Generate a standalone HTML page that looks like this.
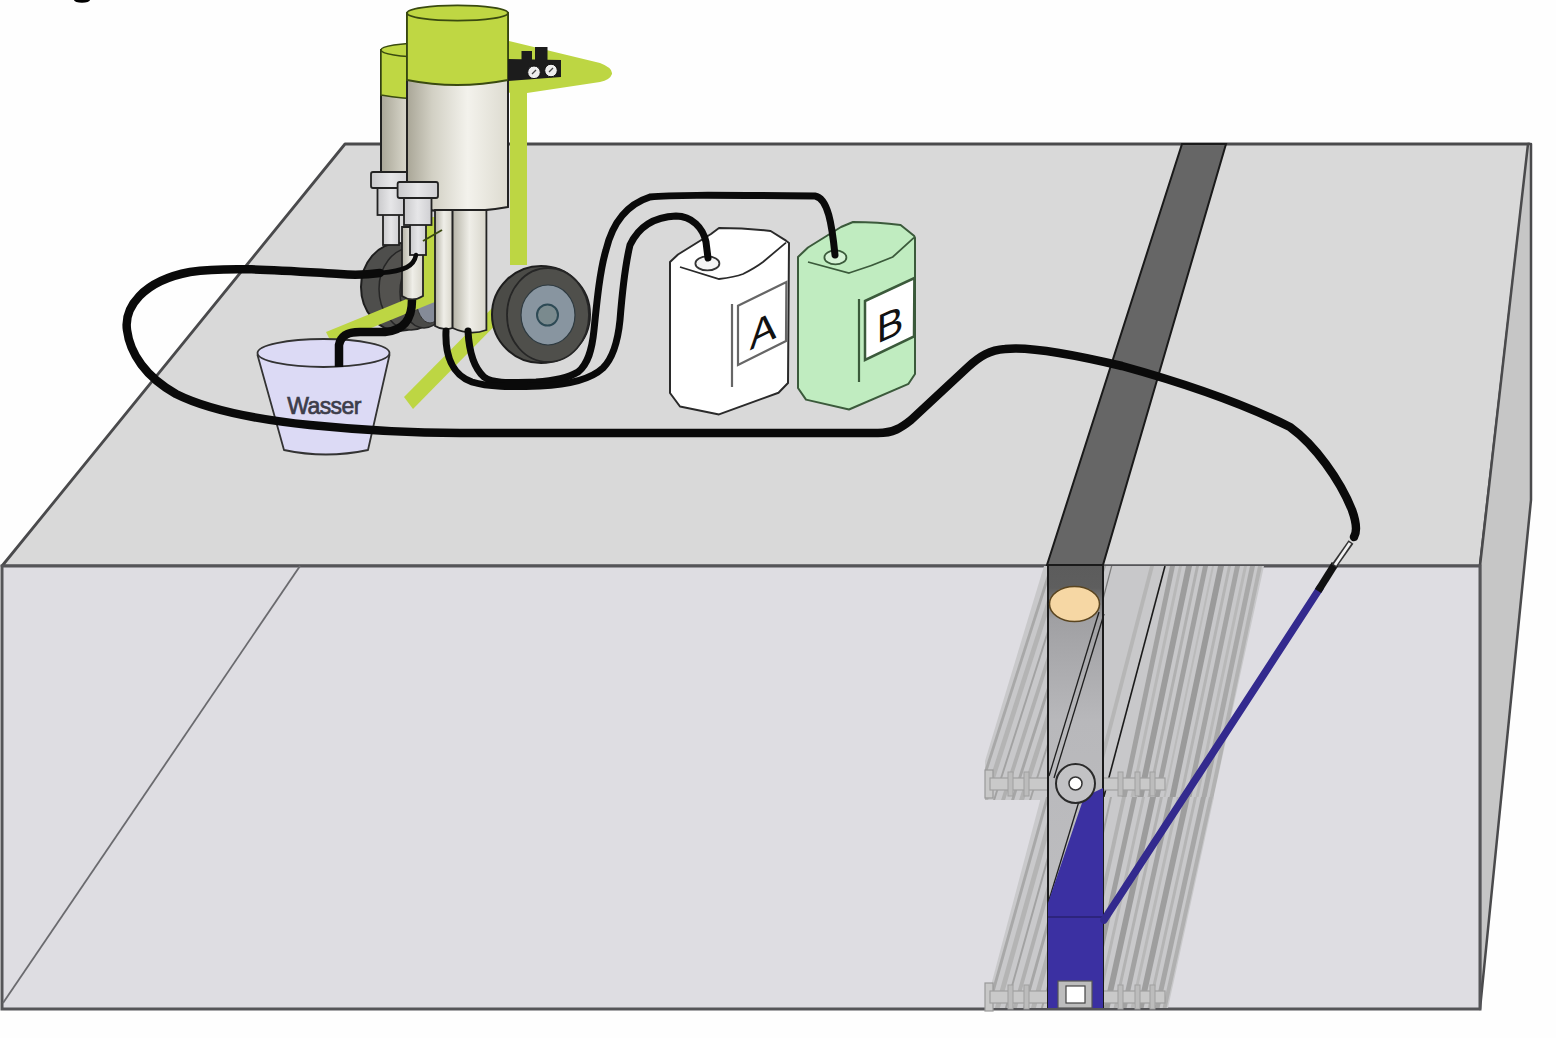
<!DOCTYPE html>
<html><head><meta charset="utf-8">
<style>
html,body{margin:0;padding:0;background:#fefefe;width:1556px;height:1038px;overflow:hidden}
svg{display:block}
text{font-family:"Liberation Sans",sans-serif}
</style></head>
<body>
<svg width="1556" height="1038" viewBox="0 0 1556 1038">
<!-- partial glyph top -->
<ellipse cx="82" cy="0" rx="8" ry="2.7" fill="#000"/>

<!-- BLOCK -->
<!-- top face -->
<polygon points="345,144 1529,144 1480,566 2,566" fill="#d9d9d9" stroke="#4a4a4c" stroke-width="2.8" stroke-linejoin="round"/>
<!-- right face -->
<polygon points="1528,144 1531,144 1531,500 1480,1009 1480,566" fill="#c6c6c6" stroke="#4a4a4c" stroke-width="2.5" stroke-linejoin="round"/>
<!-- front face -->
<rect x="2" y="566" width="1478" height="443" fill="#dedde2" stroke="#555558" stroke-width="3"/>
<line x1="300" y1="566" x2="3" y2="1003" stroke="#6a6a6e" stroke-width="1.8"/>

<!-- CHANNEL (slanted grey stripes) -->
<g id="channel"><defs><clipPath id="cu"><polygon points="1044,566 1264,566 1213,800 985,800 985,761"/></clipPath>
<clipPath id="cl"><polygon points="1041,797 1214,797 1168,1008 985,1008"/></clipPath>
<linearGradient id="bh" x1="0" y1="0" x2="0" y2="1"><stop offset="0" stop-color="#5c5c5c"/><stop offset="0.05" stop-color="#5e5e5e"/><stop offset="0.12" stop-color="#a0a0a3"/><stop offset="0.35" stop-color="#b8b8bb"/><stop offset="1" stop-color="#c0c0c2"/></linearGradient></defs>
<g clip-path="url(#cu)">
<rect x="960" y="560" width="320" height="250" fill="#c8c8ca"/>
<polygon points="1050.0,566 1053.0,566 978.1,800 975.1,800" fill="#a8a8a8"/>
<polygon points="1058.0,566 1063.0,566 988.1,800 983.1,800" fill="#b4b4b4"/>
<polygon points="1068.0,566 1070.0,566 995.1,800 993.1,800" fill="#a2a2a2"/>
<polygon points="1076.0,566 1080.0,566 1005.1,800 1001.1,800" fill="#b0b0b0"/>
<polygon points="1086.0,566 1089.0,566 1014.1,800 1011.1,800" fill="#a6a6a6"/>
<polygon points="1094.0,566 1099.0,566 1024.1,800 1019.1,800" fill="#b2b2b2"/>
<polygon points="1104.0,566 1106.0,566 1031.1,800 1029.1,800" fill="#a4a4a4"/>
<polygon points="1111.0,566 1112.3,566 1051.5,800 1050.2,800" fill="#7a7a7a"/>
<polygon points="1150.0,566 1154.0,566 1093.2,800 1089.2,800" fill="#b6b6b6"/>
<polygon points="1170.0,566 1175.0,566 1125.9,800 1120.9,800" fill="#a2a2a2"/>
<polygon points="1179.0,566 1182.0,566 1132.9,800 1129.9,800" fill="#b8b8b8"/>
<polygon points="1186.0,566 1192.0,566 1142.9,800 1136.9,800" fill="#9c9c9c"/>
<polygon points="1196.0,566 1199.0,566 1149.9,800 1146.9,800" fill="#b0b0b0"/>
<polygon points="1203.0,566 1208.0,566 1158.9,800 1153.9,800" fill="#a0a0a0"/>
<polygon points="1212.0,566 1214.0,566 1164.9,800 1162.9,800" fill="#bababa"/>
<polygon points="1218.0,566 1224.0,566 1174.9,800 1168.9,800" fill="#9a9a9a"/>
<polygon points="1228.0,566 1231.0,566 1181.9,800 1178.9,800" fill="#b4b4b4"/>
<polygon points="1235.0,566 1240.0,566 1190.9,800 1185.9,800" fill="#a4a4a4"/>
<polygon points="1244.0,566 1247.0,566 1197.9,800 1194.9,800" fill="#b8b8b8"/>
<polygon points="1250.0,566 1255.0,566 1205.9,800 1200.9,800" fill="#a8a8a8"/>
<polygon points="1258.0,566 1262.0,566 1212.9,800 1208.9,800" fill="#b2b2b2"/>
<line x1="1165" y1="566" x2="1103" y2="800" stroke="#1a1a1a" stroke-width="1.6"/>
</g>
<g clip-path="url(#cl)">
<rect x="960" y="790" width="300" height="230" fill="#c9c9cb"/>
<polygon points="1046.0,797 1049.0,797 989.9,1008 986.9,1008" fill="#a8a8a8"/>
<polygon points="1054.0,797 1059.0,797 999.9,1008 994.9,1008" fill="#b4b4b4"/>
<polygon points="1064.0,797 1066.0,797 1006.9,1008 1004.9,1008" fill="#a2a2a2"/>
<polygon points="1072.0,797 1076.0,797 1016.9,1008 1012.9,1008" fill="#b0b0b0"/>
<polygon points="1082.0,797 1085.0,797 1025.9,1008 1022.9,1008" fill="#a6a6a6"/>
<polygon points="1090.0,797 1095.0,797 1035.9,1008 1030.9,1008" fill="#b2b2b2"/>
<polygon points="1100.0,797 1102.0,797 1042.9,1008 1040.9,1008" fill="#a4a4a4"/>
<polygon points="1110.0,797 1112.0,797 1065.6,1008 1063.6,1008" fill="#a8a8a8"/>
<polygon points="1122.0,797 1126.0,797 1079.6,1008 1075.6,1008" fill="#b2b2b2"/>
<polygon points="1132.0,797 1137.0,797 1090.6,1008 1085.6,1008" fill="#a0a0a0"/>
<polygon points="1142.0,797 1145.0,797 1098.6,1008 1095.6,1008" fill="#b6b6b6"/>
<polygon points="1150.0,797 1156.0,797 1109.6,1008 1103.6,1008" fill="#9c9c9c"/>
<polygon points="1160.0,797 1163.0,797 1116.6,1008 1113.6,1008" fill="#b2b2b2"/>
<polygon points="1168.0,797 1173.0,797 1126.6,1008 1121.6,1008" fill="#a2a2a2"/>
<polygon points="1177.0,797 1180.0,797 1133.6,1008 1130.6,1008" fill="#b8b8b8"/>
<polygon points="1184.0,797 1190.0,797 1143.6,1008 1137.6,1008" fill="#9e9e9e"/>
<polygon points="1194.0,797 1197.0,797 1150.6,1008 1147.6,1008" fill="#b4b4b4"/>
<polygon points="1201.0,797 1206.0,797 1159.6,1008 1154.6,1008" fill="#a6a6a6"/>
<polygon points="1209.0,797 1213.0,797 1166.6,1008 1162.6,1008" fill="#b0b0b0"/>
</g>
<rect x="985" y="770" width="8" height="28" fill="#c8c8c8" stroke="#999" stroke-width="1.2"/>
<rect x="990" y="778" width="175" height="12" fill="#c9c9c9" stroke="#a0a0a0" stroke-width="1.2"/>
<rect x="1008" y="772" width="5" height="24" fill="#bcbcbc" stroke="#a0a0a0" stroke-width="1"/>
<rect x="1024" y="772" width="5" height="24" fill="#bcbcbc" stroke="#a0a0a0" stroke-width="1"/>
<rect x="1118" y="772" width="5" height="24" fill="#bcbcbc" stroke="#a0a0a0" stroke-width="1"/>
<rect x="1135" y="772" width="5" height="24" fill="#bcbcbc" stroke="#a0a0a0" stroke-width="1"/>
<rect x="1150" y="772" width="5" height="24" fill="#bcbcbc" stroke="#a0a0a0" stroke-width="1"/>
<rect x="985" y="983" width="8" height="28" fill="#c8c8c8" stroke="#999" stroke-width="1.2"/>
<rect x="990" y="991" width="175" height="12" fill="#c9c9c9" stroke="#a0a0a0" stroke-width="1.2"/>
<rect x="1008" y="985" width="5" height="24" fill="#bcbcbc" stroke="#a0a0a0" stroke-width="1"/>
<rect x="1024" y="985" width="5" height="24" fill="#bcbcbc" stroke="#a0a0a0" stroke-width="1"/>
<rect x="1118" y="985" width="5" height="24" fill="#bcbcbc" stroke="#a0a0a0" stroke-width="1"/>
<rect x="1135" y="985" width="5" height="24" fill="#bcbcbc" stroke="#a0a0a0" stroke-width="1"/>
<rect x="1150" y="985" width="5" height="24" fill="#bcbcbc" stroke="#a0a0a0" stroke-width="1"/>
<rect x="1048" y="566" width="55" height="442" fill="url(#bh)"/>
<line x1="1099" y1="612" x2="1049" y2="776" stroke="#1e1e1e" stroke-width="1.3"/>
<line x1="1104" y1="614" x2="1054" y2="778" stroke="#1e1e1e" stroke-width="1.3"/>
<line x1="1048" y1="566" x2="1048" y2="1008" stroke="#1a1a1a" stroke-width="2"/>
<line x1="1103" y1="566" x2="1103" y2="1008" stroke="#1a1a1a" stroke-width="2"/>
<ellipse cx="1074.5" cy="604" rx="25" ry="17.5" fill="#f6d7a4" stroke="#5a4520" stroke-width="1.5"/>
<line x1="1080" y1="798" x2="1049" y2="900" stroke="#1e1e1e" stroke-width="1.3"/>
<polygon points="1084,797 1103,788 1103,1008 1048,1008 1048,903" fill="#3b30a2"/>
<line x1="1048" y1="917" x2="1103" y2="917" stroke="#2a2070" stroke-width="1.5"/>
<circle cx="1075.5" cy="783.5" r="19.5" fill="#c2c2c4" stroke="#2a2a2a" stroke-width="2"/>
<circle cx="1075.5" cy="783.5" r="6.5" fill="#fff" stroke="#333" stroke-width="1.5"/>
<rect x="1058" y="981" width="34" height="27" fill="#bdbdbd" stroke="#555" stroke-width="1.2"/>
<rect x="1066" y="986" width="19" height="17" fill="#fff" stroke="#444" stroke-width="1.2"/>
<line x1="1104" y1="920" x2="1320" y2="588" stroke="#332a8e" stroke-width="7.5" stroke-linecap="round"/>
<line x1="1318" y1="591" x2="1335" y2="564" stroke="#111" stroke-width="7.5"/>
<line x1="1334" y1="566" x2="1351" y2="542" stroke="#333" stroke-width="6"/>
<line x1="1335" y1="565" x2="1350" y2="543" stroke="#f2f2f2" stroke-width="2.8"/>
</g>

<!-- dark strip on top -->
<polygon points="1182,144 1226,144 1103,565 1047,565" fill="#666" stroke="#1a1a1a" stroke-width="2"/>

<!-- PUMP -->
<g id="pump">
<defs>
<linearGradient id="cyl" x1="0" x2="1" y1="0" y2="0">
<stop offset="0" stop-color="#a9a697"/><stop offset="0.25" stop-color="#d2d0c4"/><stop offset="0.6" stop-color="#f3f2ec"/><stop offset="1" stop-color="#dddbd0"/>
</linearGradient>
<linearGradient id="cyl2" x1="0" x2="1" y1="0" y2="0">
<stop offset="0" stop-color="#b5b3a6"/><stop offset="0.5" stop-color="#efeee8"/><stop offset="1" stop-color="#d8d6cb"/>
</linearGradient>
<linearGradient id="fit" x1="0" x2="1" y1="0" y2="0">
<stop offset="0" stop-color="#c9c9cb"/><stop offset="0.5" stop-color="#e6e6e8"/><stop offset="1" stop-color="#cfcfd2"/>
</linearGradient>
</defs>
<!-- green frame: arm + post -->
<path d="M505,40 L600,63 Q613,68 612,74 Q610,80 600,82 L527,93 L527,265 L510,265 L510,93 L505,90 Z" fill="#bdd643"/>
<!-- green base bars -->
<polygon points="404,397 508,292 518,302 413,409" fill="#bdd643"/>
<!-- back cylinder -->
<path d="M381,50 L381,172 L470,172 L470,50 Z" fill="url(#cyl)" stroke="#222" stroke-width="2"/>
<path d="M381,50 L381,95 Q425,103 470,95 L470,50 Z" fill="#bfd743" stroke="#3a4a10" stroke-width="1.5"/>
<ellipse cx="425" cy="50" rx="44" ry="7" fill="#bfd743" stroke="#3a4a10" stroke-width="1.5"/>
<!-- back wheel -->
<ellipse cx="399" cy="287" rx="38" ry="44" fill="#4e4e4c" stroke="#1e1e1e" stroke-width="2"/>
<ellipse cx="411" cy="289" rx="32" ry="41" fill="#53524f" stroke="#262626" stroke-width="1.5"/>
<ellipse cx="424" cy="292" rx="24" ry="36" fill="#4a4a48" stroke="#262626" stroke-width="1.5"/>
<ellipse cx="430" cy="297" rx="14" ry="26" fill="#858b98" stroke="#333" stroke-width="1"/>
<polygon points="326,332 436,287 442,299 332,344" fill="#bdd643"/>
<!-- green post between -->
<rect x="423" y="217" width="13" height="78" fill="#bdd643"/>
<!-- back fitting -->
<rect x="383" y="213" width="16" height="32" fill="url(#fit)" stroke="#222" stroke-width="1.8"/>
<rect x="377.5" y="187" width="26.5" height="28" fill="url(#fit)" stroke="#222" stroke-width="1.8"/>
<rect x="371" y="172" width="40" height="16" rx="2" fill="url(#fit)" stroke="#222" stroke-width="1.8"/>
<!-- front cylinder -->
<path d="M407,13 L407,207 Q457,216 508,207 L508,13 Z" fill="url(#cyl)" stroke="#222" stroke-width="2"/>
<path d="M407,13 L407,80 Q457,90 508,80 L508,13 Z" fill="#bfd743" stroke="#3a4a10" stroke-width="1.8"/>
<ellipse cx="457.5" cy="13" rx="50.5" ry="7.7" fill="#bfd743" stroke="#3a4a10" stroke-width="1.8"/>
<!-- pistons -->
<path d="M435,210 L435,326 Q443,331 452.6,328 L452.6,210 Z" fill="url(#cyl2)" stroke="#222" stroke-width="1.8"/>
<path d="M452.6,210 L452.6,328 Q470,336 486.4,330 L486.4,210 Z" fill="url(#cyl2)" stroke="#222" stroke-width="1.8"/>
<!-- front fitting -->
<path d="M402,227 L402,296 Q412,303 423,296 L423,227 Z" fill="url(#cyl2)" stroke="#222" stroke-width="1.8"/>
<rect x="410" y="223" width="16" height="32" fill="url(#fit)" stroke="#222" stroke-width="1.8"/>
<rect x="404" y="197" width="27.5" height="28" fill="url(#fit)" stroke="#222" stroke-width="1.8"/>
<rect x="397.6" y="182" width="40.4" height="16" rx="2" fill="url(#fit)" stroke="#222" stroke-width="1.8"/>
<line x1="423" y1="241" x2="442" y2="230" stroke="#3a4a10" stroke-width="2"/>
<!-- gauge block -->
<polygon points="508,59 561,60 561,77 508,81" fill="#1c1c1c"/>
<rect x="521.5" y="51" width="10.5" height="10" fill="#1c1c1c"/>
<rect x="535" y="47" width="12.5" height="14" fill="#1c1c1c"/>
<circle cx="534" cy="72.3" r="6.3" fill="#eeeeee" stroke="#111" stroke-width="1"/>
<circle cx="551" cy="70.5" r="6.3" fill="#eeeeee" stroke="#111" stroke-width="1"/>
<line x1="532" y1="74" x2="536" y2="70" stroke="#444" stroke-width="1.2"/>
<line x1="549" y1="72" x2="553" y2="68" stroke="#444" stroke-width="1.2"/>
<!-- front wheel -->
<ellipse cx="541" cy="314.5" rx="49" ry="48.5" fill="#4b4b47" stroke="#1e1e1e" stroke-width="2"/>
<ellipse cx="548" cy="315" rx="41" ry="47" fill="#4f4f4b" stroke="#262626" stroke-width="1.8"/>
<ellipse cx="548" cy="315" rx="27" ry="30" fill="#8895a0" stroke="#2e3a40" stroke-width="1.2"/>
<circle cx="547.5" cy="315" r="10.5" fill="#7a8a8e" stroke="#2d4a55" stroke-width="2"/>
</g>

<!-- canisters -->
<g id="cans">
<!-- canister A -->
<path d="M670,262 L678,254.5 L711,234 L719,228 Q745,228 770.6,231 L786,240.7 L789,243 L788,383 L778.5,392.7 L719,414.4 L680,406.5 L670,393 Z" fill="#ffffff" stroke="#2a2a2a" stroke-width="2" stroke-linejoin="round"/>
<path d="M680,267 L719,279 Q735,277 743,274 Q755,268 763,262 L786,242.6" fill="none" stroke="#2a2a2a" stroke-width="1.8"/>
<line x1="732" y1="304" x2="732" y2="387" stroke="#666" stroke-width="2.2"/>
<polygon points="738,305.8 786.4,282 786,341 738,365" fill="#fff" stroke="#666" stroke-width="2.2"/>
<text font-size="40" text-anchor="middle" fill="#111" transform="translate(763,344) skewY(-26)">A</text>
<ellipse cx="707.4" cy="263.4" rx="12" ry="7" fill="#f4f4f4" stroke="#333" stroke-width="1.8"/>
<!-- canister B -->
<path d="M798,257 L808,247.5 L841,227 L853,222 Q878,222 900.6,225 L914,235.7 L915,238 L915,374 L908.5,383.8 L849,409.5 L806,399.6 L798,388 Z" fill="#c0ecc0" stroke="#3b5a3b" stroke-width="2" stroke-linejoin="round"/>
<path d="M808,262 L849,273 Q872,266 892.7,257 L914,237.6" fill="none" stroke="#3b5a3b" stroke-width="1.8"/>
<line x1="859" y1="299" x2="859" y2="382" stroke="#3b5a3b" stroke-width="2.2"/>
<polygon points="865,301 914.4,278 914,336.4 865,360" fill="#fff" stroke="#3b5a3b" stroke-width="2.5"/>
<text font-size="40" text-anchor="middle" fill="#111" transform="translate(890,338) skewY(-24)">B</text>
<ellipse cx="835.4" cy="257.4" rx="11" ry="7" fill="#d6f2d6" stroke="#3b5a3b" stroke-width="1.8"/>
</g>
<!-- pump hoses to canisters -->
<path d="M468,331 C469,350 474,368 484,377 C492,383 505,383 536,382 C552,381 568,378 578,372 C588,364 592,350 594,330 C597,300 600,270 606,250 C612,225 625,205 650,197 C670,195 700,195 815,196 C828,198 832,225 835,255" fill="none" stroke="#0a0a0a" stroke-width="7" stroke-linecap="round"/>
<path d="M446,331 C445,355 452,375 472,382 C488,387 510,387 540,386 C565,385 590,380 603,368 C614,357 618,340 620,320 C622,295 624,270 630,245 C638,228 652,217 676,216 C692,216 703,228 706,242 L708,258" fill="none" stroke="#0a0a0a" stroke-width="7" stroke-linecap="round"/>
<!-- bucket -->
<path d="M257.5,355 L284,450 Q326,459 368,450 L389.5,355 Z" fill="#dcdaf5" stroke="#333" stroke-width="1.8" stroke-linejoin="round"/>
<ellipse cx="323.5" cy="353" rx="66" ry="14" fill="#dcdaf5" stroke="#333" stroke-width="1.8"/>
<text x="324" y="414" font-size="23" text-anchor="middle" fill="#3d3d4a" stroke="#3d3d4a" stroke-width="0.7" letter-spacing="-0.6">Wasser</text>
<!-- bucket hose -->
<path d="M339,367 L339,345 C341,334 350,332 360,332 L385,332 C405,330 412,318 412,300" fill="none" stroke="#0a0a0a" stroke-width="8.5"/>


<!-- main hose -->
<path d="M416,255 C414,266 405,271 380,273" fill="none" stroke="#0a0a0a" stroke-width="4.5" stroke-linecap="round"/>
<path d="M380,273 C365,275 352,275 340,274 C290,271 230,266 190,272 C142,281 124,308 127,330 C130,354 146,377 176,394 C206,409 252,419 310,425 C360,430 420,433 460,433 L878,433 C893,433 901,428 911,420 L968,367 C980,356 990,350 1005,349 C1030,346 1080,356 1122,366 C1180,382 1240,402 1290,427 C1315,445 1340,480 1352,510 C1357,524 1357,532 1354,537" fill="none" stroke="#0a0a0a" stroke-width="8.5" stroke-linecap="round" stroke-linejoin="round"/>

</svg>
</body></html>
